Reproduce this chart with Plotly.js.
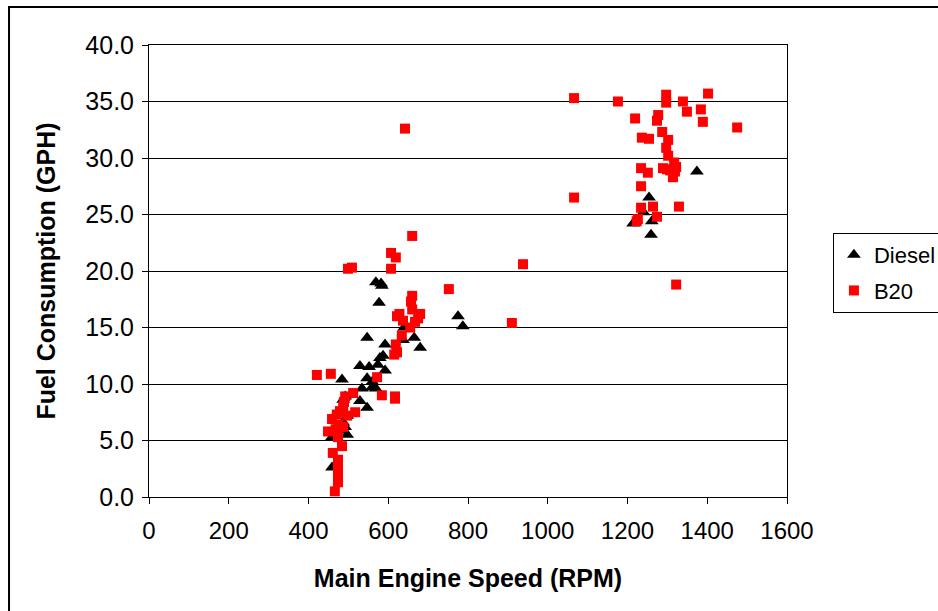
<!DOCTYPE html>
<html>
<head>
<meta charset="utf-8">
<script src="https://cdn.plot.ly/plotly-3.0.1.min.js"></script>
<style>
  html, body { margin: 0; padding: 0; background: #fff; }
  #chart { width: 938px; height: 611px; }
</style>
</head>
<body>
<div id="chart"></div>
<script>
// Main engine speed (RPM) and fuel consumption (GPH), diesel runs
const dieselRpm = [459, 459, 479, 497, 492, 487, 497, 487, 492, 484, 529, 547, 534, 559, 569, 547,
  529, 552, 574, 579, 587, 592, 547, 592, 637, 665, 680, 577, 569, 582, 584, 775, 787, 640, 560,
  1254, 1214, 1240, 1261, 1259, 1374];
const dieselGph = [2.6, 5.3, 5.9, 5.5, 6.2, 6.6, 7.2, 8.6, 8.9, 10.4, 8.5, 7.9, 9.6, 9.7, 9.6, 10.5,
  11.6, 11.5, 11.7, 12.3, 12.5, 11.2, 14.1, 13.5, 13.9, 14.1, 13.2, 17.2, 19.0, 18.9, 18.7, 16.0, 15.1, 15.0, 10.2,
  26.5, 24.2, 25.2, 24.4, 23.2, 28.8];

// Same measurements for the B20 blend
const b20Rpm = [1066, 1176, 1297, 1297, 1339, 1402, 1349, 1384, 1389, 1219, 1277, 1274, 1236, 1254,
  1287, 1302, 1297, 1302, 1317, 1289, 1307, 1319, 1314, 1322, 1234, 1251, 1234, 1475, 1066, 1234,
  1264, 1329, 1223, 1226, 1274, 1322, 938, 910, 1299,
  642, 660, 607, 619, 607, 499, 509, 752, 660, 657, 660, 622, 628, 680, 675, 637, 667, 655, 634,
  619, 622, 615, 572, 421, 456, 512, 584, 617, 617, 489, 487, 492, 517, 497, 471, 459, 474, 449,
  474, 484, 461, 474, 474, 474, 474, 466, 479, 468, 487];
const b20Gph = [35.3, 35.0, 35.6, 34.9, 35.0, 35.7, 34.1, 34.3, 33.2, 33.5, 33.8, 33.3, 31.8, 31.7,
  32.3, 31.6, 30.9, 30.2, 29.6, 29.1, 28.9, 28.8, 28.3, 29.2, 29.1, 28.7, 27.5, 32.7, 26.5, 25.6,
  25.7, 25.7, 24.4, 24.6, 24.8, 18.8, 20.6, 15.4, 29.0,
  32.6, 23.1, 21.6, 21.2, 20.2, 20.2, 20.3, 18.4, 17.8, 17.3, 16.6, 16.0, 16.2, 16.2, 15.8, 15.6, 15.5, 15.0, 14.3,
  13.5, 12.8, 12.6, 10.6, 10.8, 10.9, 9.2, 9.0, 8.9, 8.7, 8.4, 8.0, 8.9, 7.5, 7.2, 7.3, 6.9, 6.4, 5.8,
  5.3, 4.5, 3.9, 3.3, 2.6, 2.0, 1.3, 0.5, 7.6, 6.0, 6.2];

const xTicks = [0, 200, 400, 600, 800, 1000, 1200, 1400, 1600];
const yTicks = [0, 5, 10, 15, 20, 25, 30, 35, 40];

const fontFamily = 'Arial, "Liberation Sans", sans-serif';

const traces = [
  {
    type: 'scatter', mode: 'markers', name: 'Diesel', legendgroup: 'diesel',
    x: dieselRpm, y: dieselGph,
    marker: { symbol: 'triangle-up', size: 12, color: '#000000' },
    cliponaxis: false
  },
  {
    type: 'scatter', mode: 'markers', name: 'B20', legendgroup: 'b20',
    x: b20Rpm, y: b20Gph,
    marker: { symbol: 'square', size: 10, color: '#ff0000' },
    cliponaxis: false
  }
];

const layout = {
  width: 938, height: 611,
  margin: { l: 149, r: 151, t: 45, b: 114, autoexpand: false },
  paper_bgcolor: '#ffffff', plot_bgcolor: '#ffffff',
  font: { family: fontFamily, size: 24, color: '#000000' },
  showlegend: true,
  legend: {
    x: 1.072, y: 0.584, xanchor: 'left', yanchor: 'top',
    bordercolor: '#000000', borderwidth: 1, bgcolor: '#ffffff',
    tracegroupgap: 4, traceorder: 'grouped',
    font: { family: fontFamily, size: 22, color: '#000000' }
  },
  xaxis: {
    range: [0, 1600], tickvals: xTicks, ticktext: xTicks.map(String),
    showgrid: false, zeroline: false,
    showline: true, linecolor: '#000000', linewidth: 1, mirror: true,
    ticks: 'outside', ticklen: 6, tickcolor: '#000000', ticklabelstandoff: 6,
    tickfont: { family: fontFamily, size: 24 },
    title: { text: 'Main Engine Speed (RPM)', font: { family: fontFamily, size: 25, weight: 'bold' }, standoff: 26 }
  },
  yaxis: {
    range: [0, 40], tickvals: yTicks, ticktext: yTicks.map(v => v.toFixed(1)),
    showgrid: true, gridcolor: '#000000', gridwidth: 1, zeroline: false,
    showline: true, linecolor: '#000000', linewidth: 1, mirror: true,
    ticks: 'outside', ticklen: 6, tickcolor: '#000000', ticklabelstandoff: 3,
    tickfont: { family: fontFamily, size: 25 },
    title: { text: 'Fuel Consumption (GPH)', font: { family: fontFamily, size: 25, weight: 'bold' }, standoff: 22 }
  },
  shapes: [
    {
      type: 'rect', xref: 'paper', yref: 'paper',
      x0: -0.2194, x1: 1.26, y0: -0.27, y1: 1.084,
      line: { color: '#000000', width: 2 }, fillcolor: 'rgba(0,0,0,0)', layer: 'below'
    }
  ]
};

Plotly.newPlot('chart', traces, layout, { displayModeBar: false, staticPlot: true });
</script>
</body>
</html>
